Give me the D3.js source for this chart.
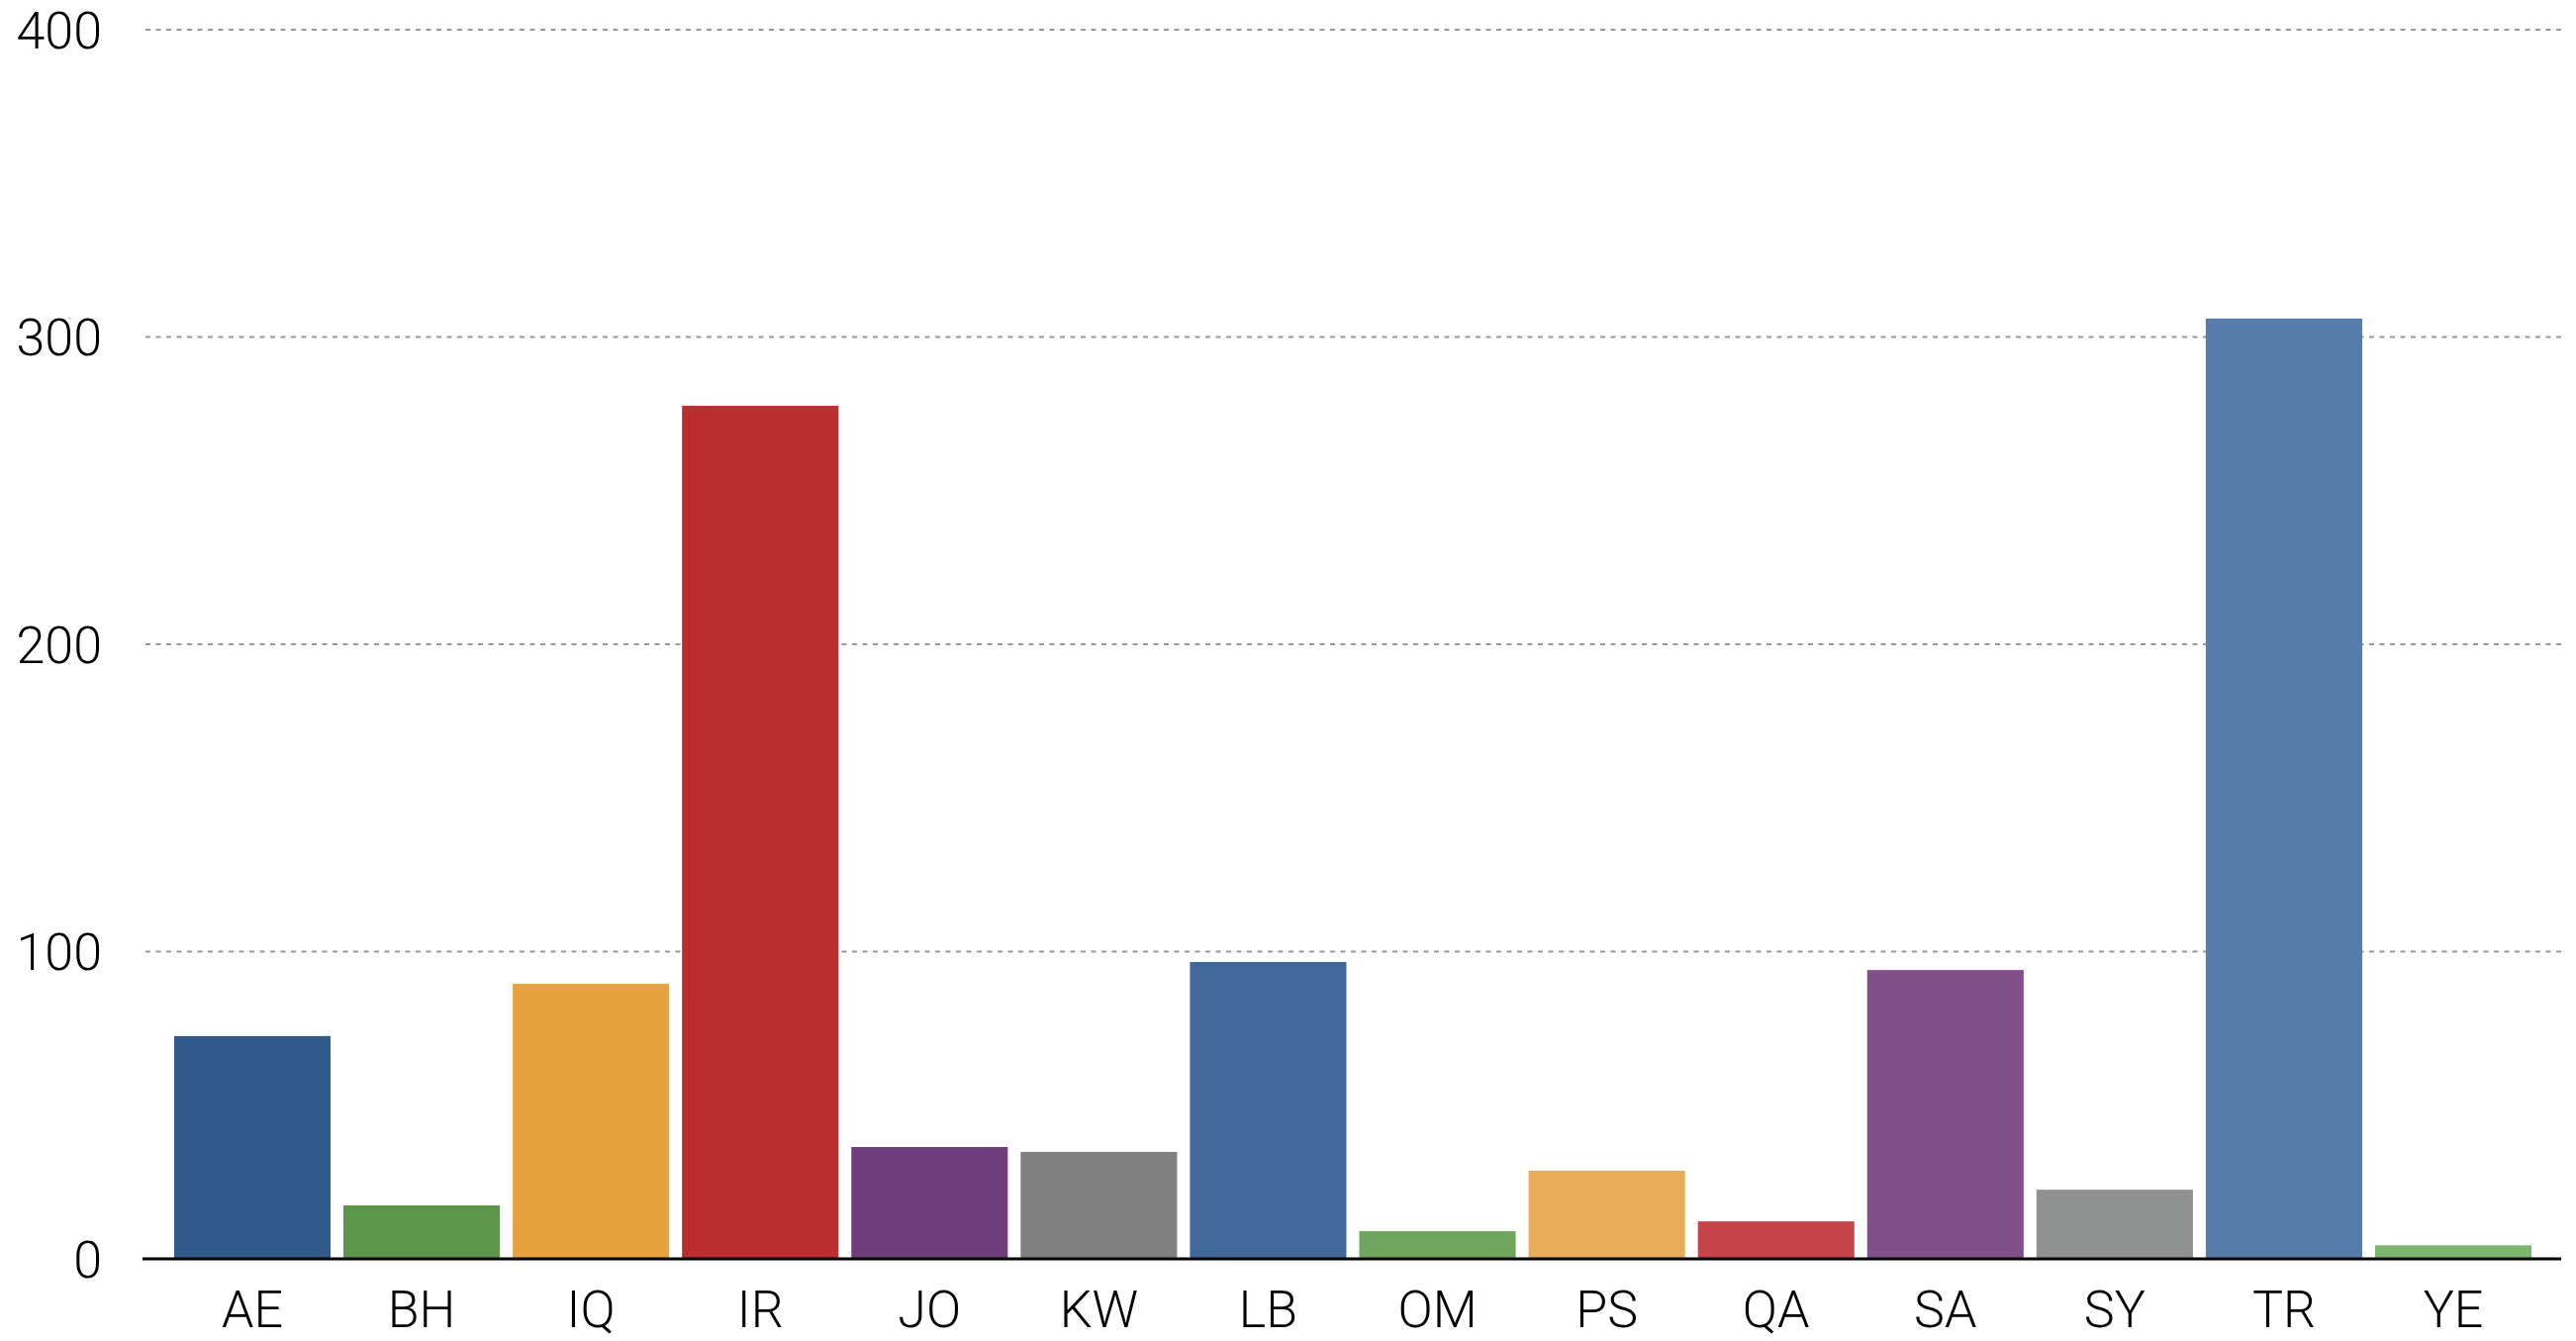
<!DOCTYPE html>
<html lang="en">
<head>
<meta charset="utf-8">
<script src="https://d3js.org/d3.v7.min.js"></script>
<style>
  body { margin: 0; background: #fff; }
  text { font-family: "Helvetica Neue", Roboto, "Liberation Sans", sans-serif; font-weight: 300; fill: #000; }
</style>
</head>
<body>
<script>
var countries = ["AE", "BH", "IQ", "IR", "JO", "KW", "LB", "OM", "PS", "QA", "SA", "SY", "TR", "YE"];
var counts = [72.5, 17.4, 89.5, 277.6, 36.4, 34.8, 96.6, 9.0, 28.7, 12.2, 94.0, 22.5, 306.0, 4.4];
var colors = ["#2f5a8a", "#5d964a", "#e6a23e", "#ba2d31", "#6f3d7a", "#7f807f", "#416899",
              "#6fa55c", "#e9ad59", "#c64449", "#81508b", "#909291", "#577ca9", "#7eb46d"];
var yTicks = [0, 100, 200, 300, 400];

var width = 2603, height = 1355;

var svg = d3.select("body").append("svg")
    .attr("width", width)
    .attr("height", height);

var x = d3.scaleBand()
    .domain(countries)
    .range([146, 2588])
    .paddingInner(0.076)
    .paddingOuter(0.175);

var y = d3.scaleLinear()
    .domain([0, 400])
    .range([1272, 30]);

// dashed grid lines
svg.append("g")
    .selectAll("line")
    .data(yTicks.filter(function(d) { return d > 0; }))
    .enter().append("line")
    .attr("x1", 147)
    .attr("x2", 2588)
    .attr("y1", function(d) { return y(d); })
    .attr("y2", function(d) { return y(d); })
    .attr("stroke", "#999")
    .attr("stroke-width", 2)
    .attr("stroke-dasharray", "5,5.5");

// y labels
svg.append("g")
    .selectAll("text")
    .data(yTicks)
    .enter().append("text")
    .attr("x", 103)
    .attr("y", function(d) { return y(d); })
    .attr("dy", "0.36em")
    .attr("text-anchor", "end")
    .attr("font-size", 52)
    .text(function(d) { return d; });

// bars
svg.append("g")
    .selectAll("rect")
    .data(countries)
    .enter().append("rect")
    .attr("x", function(d) { return x(d); })
    .attr("width", x.bandwidth())
    .attr("y", function(d, i) { return y(counts[i]); })
    .attr("height", function(d, i) { return y(0) - y(counts[i]); })
    .attr("fill", function(d, i) { return colors[i]; });

// baseline
svg.append("line")
    .attr("x1", 144)
    .attr("x2", 2588)
    .attr("y1", y(0))
    .attr("y2", y(0))
    .attr("stroke", "#000")
    .attr("stroke-width", 3);

// x labels
svg.append("g")
    .selectAll("text")
    .data(countries)
    .enter().append("text")
    .attr("x", function(d) { return x(d) + x.bandwidth() / 2; })
    .attr("y", 1341)
    .attr("text-anchor", "middle")
    .attr("font-size", 52)
    .text(function(d) { return d; });
</script>
</body>
</html>
